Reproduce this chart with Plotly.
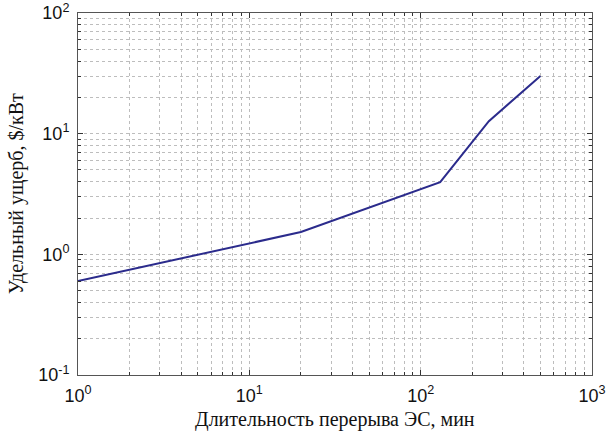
import plotly.graph_objects as go

# Data
duration_min = [1, 20, 130, 250, 500]
damage_usd_per_kw = [0.6, 1.53, 3.97, 12.7, 30]

x_tick_vals = [1, 10, 100, 1000]
x_tick_text = ["10<sup>0</sup>", "10<sup>1</sup>", "10<sup>2</sup>", "10<sup>3</sup>"]
y_tick_vals = [0.1, 1, 10, 100]
y_tick_text = ["10<sup>-1</sup>", "10<sup>0</sup>", "10<sup>1</sup>", "10<sup>2</sup>"]
x_title = "Длительность перерыва ЭС, мин"
y_title = "Удельный ущерб, $/кВт"

x_minor = [m * d for d in (1, 10, 100) for m in range(2, 10)]
y_minor = [m * d for d in (0.1, 1, 10) for m in range(2, 10)]

fig = go.Figure()
fig.add_trace(go.Scatter(
    x=duration_min, y=damage_usd_per_kw, mode="lines",
    line=dict(color="#2b2b8c", width=2), showlegend=False, hoverinfo="skip"))

grid_color = "#bdbdbd"
tick_font = dict(family="Liberation Sans, Arial, sans-serif", size=18, color="#111")
title_font = dict(family="Liberation Serif, Times New Roman, serif", size=20, color="#111")

common = dict(
    tickmode="array", tickfont=tick_font, ticks="inside", ticklen=5,
    tickcolor="#333", ticklabelstandoff=4, automargin=False,
    showline=True, linecolor="#555", linewidth=1, mirror="ticks",
    showgrid=True, gridcolor=grid_color, griddash="dot", gridwidth=1,
    zeroline=False,
)
fig.update_xaxes(
    type="log", range=[0, 3], tickvals=x_tick_vals, ticktext=x_tick_text,
    minor=dict(tickmode="array", tickvals=x_minor, ticks="inside", ticklen=3,
               tickcolor="#333", showgrid=True, gridcolor=grid_color,
               griddash="dot", gridwidth=1),
    **common,
)
fig.update_yaxes(
    type="log", range=[-1, 2], tickvals=y_tick_vals, ticktext=y_tick_text,
    minor=dict(tickmode="array", tickvals=y_minor, ticks="inside", ticklen=3,
               tickcolor="#333", showgrid=True, gridcolor=grid_color,
               griddash="dot", gridwidth=1),
    **common,
)

fig.add_annotation(text=x_title, xref="paper", yref="paper", x=0.5, y=-0.124,
                   xanchor="center", yanchor="middle", showarrow=False, font=title_font)
fig.add_annotation(text=y_title, xref="paper", yref="paper", x=-0.12, y=0.5,
                   xanchor="center", yanchor="middle", textangle=-90,
                   showarrow=False, font=title_font)

fig.update_layout(
    width=606, height=432,
    margin=dict(l=78, r=14, t=13, b=57),
    paper_bgcolor="white", plot_bgcolor="white",
)

# Remove the default 8px page margin so the figure fills the window exactly
fig.write_html("out.html",
               config={"displayModeBar": False},
               post_script="document.body.style.margin='0px';document.body.style.overflow='hidden';")
